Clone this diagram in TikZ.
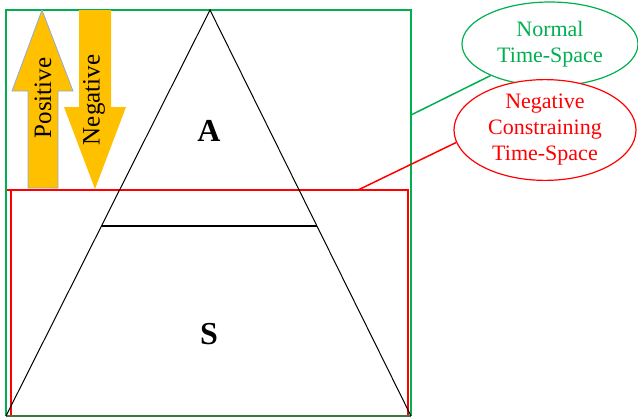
\documentclass[tikz,border=0pt]{standalone}
\usepackage{fontspec}
\setmainfont{Liberation Serif}
\usetikzlibrary{shapes.geometric}
\definecolor{gr}{RGB}{0,176,80}
\definecolor{rd}{RGB}{255,0,0}
\definecolor{dgr}{RGB}{60,120,60}
\definecolor{gold}{RGB}{255,192,0}
\definecolor{arrb}{RGB}{143,170,220}
\tikzset{
  lbl/.style={font=\fontsize{32}{36}\selectfont\bfseries, inner sep=0pt},
  arrtxt/.style={font=\fontsize{25}{28}\selectfont, rotate=90, inner sep=0pt},
  oval/.style={ellipse, draw, fill=white, line width=1.2pt, inner sep=0pt, align=center,
    font=\fontsize{22}{26}\selectfont},
  conn/.style={line width=1.5pt}
}
\begin{document}
\begin{tikzpicture}[x=1pt,y=-1pt]
\useasboundingbox (0,0) rectangle (638,418);
% frames
\draw[gr, line width=1.2pt] (6,416) -- (6,10) -- (411,10) -- (411,416);
\draw[rd, line width=1.2pt] (7,190) -- (408,190) -- (408,416);
\draw[rd, line width=1.2pt] (11,190) -- (11,416);
\draw[dgr, line width=1.5pt] (6,416) -- (411,416);
% triangle
\draw[black, line width=1pt] (6,416) -- (210,10) -- (411,416);
\draw[black, line width=1.5pt] (102,226) -- (317,226);
\node[lbl] (A) at (209,131) {A};
\node[lbl] (S) at (209,334) {S};
% arrows
\fill[gold, draw=arrb, line width=0.8pt] (28,188) -- (28,91) -- (12,91) -- (42,10) -- (73,91) -- (58,91) -- (58,188) -- cycle;
\fill[gold] (79,10) -- (111,10) -- (111,107) -- (126,107) -- (95,189) -- (64,107) -- (79,107) -- cycle;
\node[arrtxt] (pos) at (43,98) {Positive};
\node[arrtxt] (neg) at (94,100) {Negative};
% ellipses
\node[oval, draw=gr, text=gr, minimum width=176pt, minimum height=84pt] (ge) at (550,44) {Normal\\Time-Space};
\node[oval, draw=rd, text=rd, minimum width=182pt, minimum height=86pt] (re) at (545,130) {Negative\\Constraining\\Time-Space};
\coordinate (gc) at (411,115);
\coordinate (rc) at (358,190);
\draw[conn, gr] (gc) -- (ge.208);
\draw[conn, rd] (rc) -- (re.188);
\end{tikzpicture}
\end{document}
